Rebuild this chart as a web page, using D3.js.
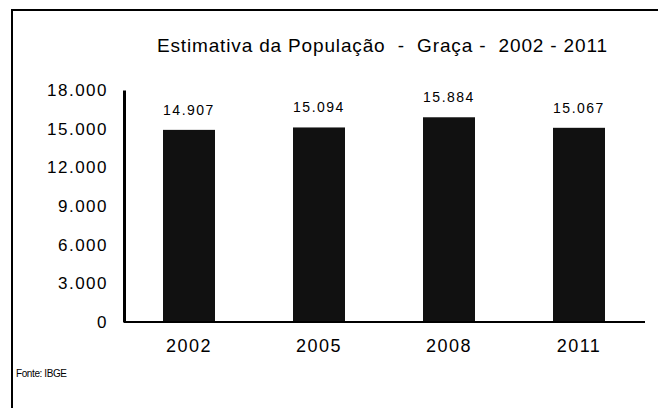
<!DOCTYPE html>
<html><head><meta charset="utf-8">
<script src="https://cdn.jsdelivr.net/npm/d3@7"></script>
<style>body{margin:0;background:#fff}svg{display:block}</style>
</head><body>
<script>
const categories = ["2002","2005","2008","2011"];
const values = [14907, 15094, 15884, 15067];
const valueLabels = ["14.907","15.094","15.884","15.067"];
const yTicks = [0,3000,6000,9000,12000,15000,18000];
const yTickLabels = ["0","3.000","6.000","9.000","12.000","15.000","18.000"];
const title = "Estimativa da População  -  Graça -  2002 - 2011";
const source = "Fonte: IBGE";

const W=658,H=408;
const svg=d3.select("body").append("svg").attr("width",W).attr("height",H);
const font="Liberation Sans, Arial, sans-serif";

// frame
svg.append("path").attr("d",`M12,${H} L12,10 L${W},10`).attr("fill","none").attr("stroke","#000").attr("stroke-width",2);

const x=d3.scaleBand().domain(categories).range([124,644]).paddingInner(0.6).paddingOuter(0.3);
const y=d3.scaleLinear().domain([0,18000]).range([322,90]);

svg.append("text").attr("x",157).attr("y",52)
  .attr("font-family",font).attr("font-size",19).style("white-space","pre")
  .attr("textLength",450).attr("lengthAdjust","spacing").text(title);

svg.selectAll("rect.bar").data(values).join("rect").attr("class","bar")
  .attr("x",(d,i)=>x(categories[i])).attr("width",x.bandwidth())
  .attr("y",d=>y(d)).attr("height",d=>y(0)-y(d)).attr("fill","#111");

svg.selectAll("text.val").data(values).join("text").attr("class","val")
  .attr("x",(d,i)=>x(categories[i])+x.bandwidth()/2).attr("y",d=>y(d)-15)
  .attr("text-anchor","middle").attr("font-family",font).attr("font-size",14)
  .attr("letter-spacing",1.5).text((d,i)=>valueLabels[i]);

const yAxis=svg.append("g").attr("transform","translate(124,0)")
  .call(d3.axisLeft(y).tickValues(yTicks).tickSize(0).tickPadding(16).tickFormat((d,i)=>yTickLabels[i]));
yAxis.select(".domain").attr("stroke","#000").attr("stroke-width",3);
yAxis.selectAll("text").attr("font-family",font).attr("font-size",17).attr("letter-spacing",1.5).attr("fill","#000");

const xAxis=svg.append("g").attr("transform","translate(0,322)")
  .call(d3.axisBottom(x).tickSize(0).tickPadding(17));
xAxis.select(".domain").attr("stroke","#000").attr("stroke-width",2).attr("d","M124,0H645");
xAxis.selectAll("text").attr("font-family",font).attr("font-size",18).attr("letter-spacing",1.5).attr("fill","#000");

svg.append("text").attr("x",16).attr("y",377).attr("font-family",font).attr("font-size",10)
  .attr("letter-spacing",-0.4).text(source);
</script>
</body></html>
